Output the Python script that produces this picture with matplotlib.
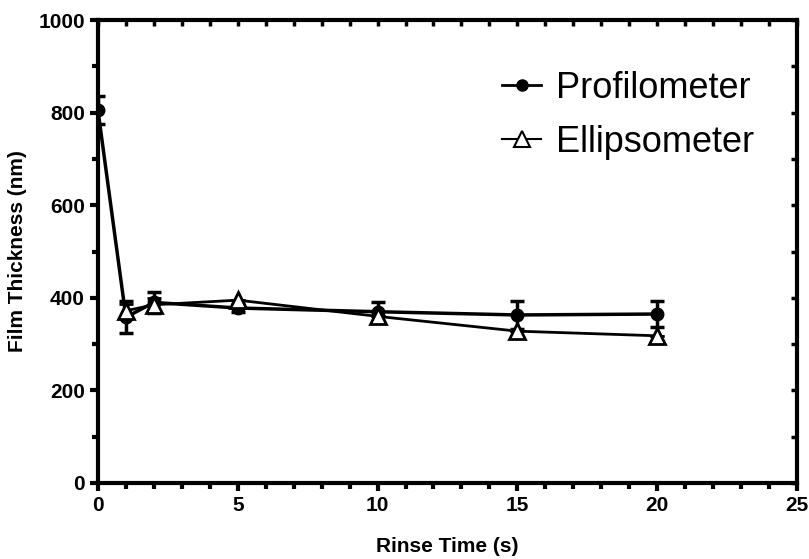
import matplotlib
matplotlib.use("Agg")
import matplotlib.pyplot as plt
from matplotlib.ticker import MultipleLocator
from matplotlib.lines import Line2D

plt.rcParams['font.family'] = ['Liberation Sans', 'DejaVu Sans']

rinse_time = [0, 1, 2, 5, 10, 15, 20]
prof_thickness = [805, 358, 390, 378, 370, 363, 365]
prof_err = [30, 35, 22, 8, 20, 30, 28]
ellip_time = [1, 2, 5, 10, 15, 20]
ellip_thickness = [372, 385, 395, 360, 328, 318]
ellip_err = [15, 15, 0, 0, 0, 0]

x_ticks = [0, 5, 10, 15, 20, 25]
y_ticks = [0, 200, 400, 600, 800, 1000]

fig = plt.figure(figsize=(8.09, 5.59), dpi=100)
ax = fig.add_axes([0.1211, 0.136, 0.864, 0.828])

ax.errorbar(rinse_time, prof_thickness, yerr=prof_err, color='black', lw=2.5,
            marker='o', ms=9, mfc='black', mec='black', capsize=5, capthick=2.5,
            elinewidth=2.5, zorder=3)
ax.errorbar(ellip_time, ellip_thickness, yerr=ellip_err, color='black', lw=2.0,
            marker='^', ms=12, mfc='white', mec='black', mew=2.0, capsize=5,
            capthick=2.5, elinewidth=2.5, zorder=4)

ax.set_xlim(0, 25)
ax.set_ylim(0, 1000)
ax.set_xticks(x_ticks)
ax.set_yticks(y_ticks)
ax.xaxis.set_minor_locator(MultipleLocator(1))
ax.yaxis.set_minor_locator(MultipleLocator(100))
ax.tick_params(which='major', direction='out', length=6, width=3,
               labelsize=15)
ax.tick_params(which='minor', direction='out', length=4, width=3)
for lab in ax.get_xticklabels() + ax.get_yticklabels():
    lab.set_fontweight('bold')

for sp in ax.spines.values():
    sp.set_linewidth(3)

secx = ax.secondary_xaxis('top')
secx.set_xticks(x_ticks)
secx.xaxis.set_minor_locator(MultipleLocator(1))
secx.tick_params(which='both', direction='in', length=4, width=2.5, labeltop=False)
secx.spines['top'].set_visible(False)
secy = ax.secondary_yaxis('right')
secy.set_yticks(y_ticks)
secy.yaxis.set_minor_locator(MultipleLocator(100))
secy.tick_params(which='both', direction='in', length=4, width=2.5, labelright=False)
secy.spines['right'].set_visible(False)

ax.set_xlabel('Rinse Time (s)', fontsize=15, fontweight='bold', labelpad=16)
ax.set_ylabel('Film Thickness (nm)', fontsize=15, fontweight='bold', labelpad=8)

handles = [
    Line2D([], [], color='black', lw=2.0, marker='o', ms=8, mfc='black', mec='black'),
    Line2D([], [], color='black', lw=1.5, marker='^', ms=11, mfc='white', mec='black', mew=1.5),
]
ax.legend(handles, ['Profilometer', 'Ellipsometer'], loc='upper right',
          bbox_to_anchor=(0.985, 0.96), frameon=False,
          fontsize=26, handlelength=1.1, handletextpad=0.4, labelspacing=0.52)

fig.savefig('out.png', dpi=100)
